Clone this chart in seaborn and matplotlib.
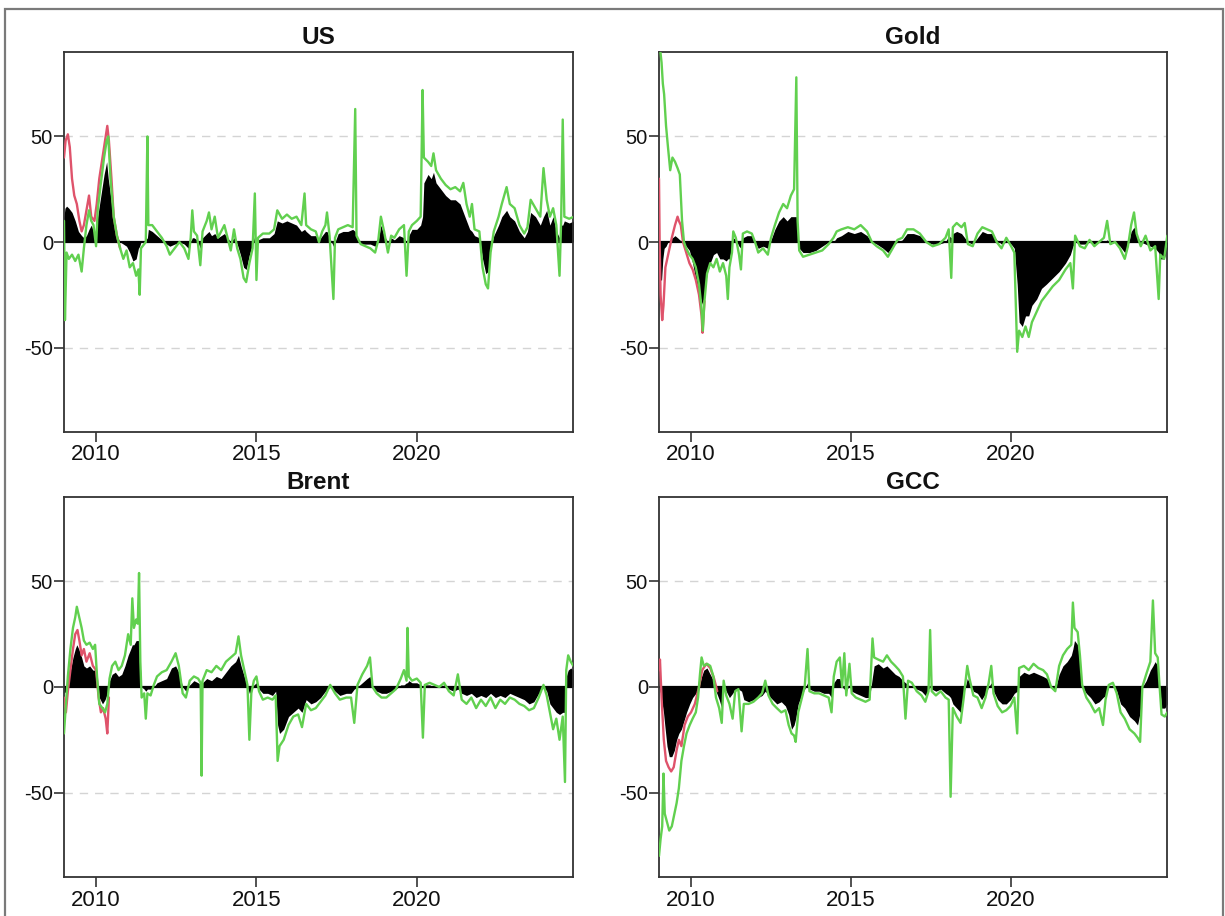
import matplotlib
matplotlib.use("Agg")
import matplotlib.pyplot as plt
import seaborn as sns
from matplotlib.patches import Rectangle

sns.set_theme(style="white")
plt.rcParams["font.family"] = ["Liberation Sans", "DejaVu Sans"]
plt.rcParams["axes.unicode_minus"] = False

RED = "#DF536B"
GREEN = "#61D04F"

# ---------------- US ----------------
us_t = [2009.00, 2009.03, 2009.08, 2009.15, 2009.25, 2009.35, 2009.45, 2009.55, 2009.62, 2009.70,
        2009.78, 2009.85, 2009.92, 2010.00, 2010.05, 2010.15, 2010.25, 2010.33, 2010.38, 2010.45,
        2010.55, 2010.65, 2010.75, 2010.85, 2010.95, 2011.05, 2011.15, 2011.25, 2011.32, 2011.36,
        2011.40, 2011.55, 2011.60, 2011.63, 2011.75, 2011.90, 2012.05, 2012.20, 2012.30, 2012.45,
        2012.60, 2012.75, 2012.88, 2012.95, 2013.00, 2013.05, 2013.15, 2013.25, 2013.32, 2013.45,
        2013.52, 2013.60, 2013.70, 2013.80, 2013.90, 2014.00, 2014.10, 2014.20, 2014.30, 2014.40,
        2014.50, 2014.60, 2014.68, 2014.78, 2014.88, 2014.95, 2015.00, 2015.05, 2015.20, 2015.40,
        2015.55, 2015.65, 2015.80, 2015.95, 2016.10, 2016.25, 2016.40, 2016.50, 2016.55, 2016.70,
        2016.85, 2016.95, 2017.05, 2017.15, 2017.20, 2017.28, 2017.40, 2017.45, 2017.55, 2017.70,
        2017.85, 2018.00, 2018.08, 2018.12, 2018.25, 2018.40, 2018.55, 2018.70, 2018.80, 2018.88,
        2018.98, 2019.10, 2019.20, 2019.30, 2019.45, 2019.60, 2019.68, 2019.75, 2019.85, 2020.00,
        2020.12, 2020.18, 2020.22, 2020.35, 2020.45, 2020.52, 2020.60, 2020.75, 2020.90, 2021.05,
        2021.20, 2021.35, 2021.45, 2021.55, 2021.65, 2021.72, 2021.80, 2021.95, 2022.05, 2022.15,
        2022.22, 2022.30, 2022.40, 2022.55, 2022.65, 2022.80, 2022.90, 2023.05, 2023.20, 2023.35,
        2023.45, 2023.55, 2023.70, 2023.85, 2023.95, 2024.05, 2024.15, 2024.25, 2024.35, 2024.45,
        2024.50, 2024.55, 2024.60, 2024.75, 2024.90]
us_fill = [12, 16, 17, 16, 14, 10, 5, 3, 2, 3,
           6, 8, 5, 3, 12, 22, 32, 38, 30, 22,
           10, 3, 0, -1, -2, -5, -9, -8, -3, -2,
           0, 1, 2, 6, 5, 3, 1, -1, -2, -1,
           0, -1, -3, 0, 2, 2, 1, -3, 2, 4,
           5, 3, 4, 2, 3, 4, 2, 0, 2, -1,
           -6, -12, -13, -6, -1, 3, -3, 1, 2, 2,
           4, 10, 9, 10, 9, 8, 5, 6, 5, 3,
           3, 1, 3, 5, 5, 2, -2, 0, 4, 5,
           5, 6, 5, 2, -1, -1, -1, -2, 1, 8,
           3, 0, 2, 1, 3, 2, 0, 3, 6, 6,
           8, 12, 28, 32, 30, 33, 28, 25, 22, 20,
           20, 18, 14, 10, 6, 5, 3, 2, -8, -15,
           -14, -3, 3, 8, 12, 15, 12, 10, 5, 2,
           5, 14, 12, 8, 12, 15, 8, 12, 5, 2,
           8, 8, 10, 9, 10]
us_green = [10, -37, -5, -8, -6, -9, -6, -14, -3, 8,
            15, 10, 8, -2, 15, 28, 40, 48, 50, 30,
            12, 3, -3, -8, -4, -12, -10, -16, -13, -25,
            -3, 0, 50, 8, 8, 5, 2, -2, -6, -3,
            0, -3, -8, 2, 15, 5, 3, -11, 5, 10,
            14, 6, 12, 2, 5, 8, 2, -4, 6, -3,
            -8, -17, -19, -10, -3, 23, -18, 2, 4, 4,
            6, 15, 11, 13, 11, 12, 8, 23, 8, 6,
            5, 0, 5, 8, 14, 3, -27, 2, 6, 7,
            8, 7, 63, 3, -1, -2, -3, -5, 1, 12,
            5, -5, 3, 2, 6, 8, -16, 5, 8, 10,
            12, 72, 40, 38, 36, 42, 34, 30, 27, 25,
            26, 24, 28, 18, 12, 18, 6, 5, -12, -20,
            -22, -5, 5, 12, 18, 26, 18, 16, 8, 4,
            7, 20, 16, 12, 35, 20, 12, 16, 8, -16,
            10, 58, 12, 11, 12]
us_red_t = [2009.00, 2009.05, 2009.12, 2009.18, 2009.25, 2009.32, 2009.40, 2009.48, 2009.55, 2009.62,
            2009.70, 2009.78, 2009.85, 2009.95, 2010.02, 2010.10, 2010.20, 2010.30, 2010.35, 2010.40,
            2010.48, 2010.55, 2010.65, 2010.75]
us_red = [40, 48, 51, 45, 30, 22, 18, 10, 5, 8,
          15, 22, 12, 10, 18, 30, 40, 50, 55, 48,
          30, 12, 3, -3]

# ---------------- Gold ----------------
gold_t = [2009.00, 2009.03, 2009.08, 2009.12, 2009.16, 2009.22, 2009.28, 2009.35, 2009.42, 2009.50,
          2009.58, 2009.65, 2009.72, 2009.78, 2009.85, 2009.95, 2010.05, 2010.15, 2010.25, 2010.32,
          2010.37, 2010.42, 2010.50, 2010.60, 2010.70, 2010.80, 2010.90, 2011.00, 2011.10, 2011.15,
          2011.20, 2011.28, 2011.32, 2011.40, 2011.50, 2011.56, 2011.62, 2011.75, 2011.90, 2012.00,
          2012.10, 2012.25, 2012.40, 2012.50, 2012.62, 2012.75, 2012.88, 2013.00, 2013.12, 2013.22,
          2013.29, 2013.33, 2013.38, 2013.50, 2013.70, 2013.90, 2014.10, 2014.30, 2014.45, 2014.55,
          2014.70, 2014.90, 2015.10, 2015.30, 2015.50, 2015.65, 2015.80, 2016.00, 2016.15, 2016.30,
          2016.45, 2016.60, 2016.75, 2016.95, 2017.15, 2017.35, 2017.55, 2017.75, 2017.95, 2018.05,
          2018.13, 2018.18, 2018.30, 2018.45, 2018.55, 2018.65, 2018.80, 2018.95, 2019.10, 2019.25,
          2019.40, 2019.55, 2019.70, 2019.85, 2020.00, 2020.10, 2020.19, 2020.25, 2020.35, 2020.45,
          2020.55, 2020.65, 2020.80, 2020.95, 2021.10, 2021.30, 2021.50, 2021.70, 2021.85, 2021.93,
          2022.00, 2022.15, 2022.30, 2022.45, 2022.60, 2022.75, 2022.90, 2023.00, 2023.10, 2023.25,
          2023.40, 2023.55, 2023.65, 2023.75, 2023.84, 2023.92, 2024.05, 2024.20, 2024.35, 2024.50,
          2024.61, 2024.66, 2024.78, 2024.88]
gold_fill = [-10, -18, -18, -8, -3, -2, 0, 1, 2, 3,
             2, 1, 0, -1, -2, -4, -10, -18, -24, -28,
             -30, -25, -15, -10, -6, -5, -8, -8, -9, -8,
             -8, -2, 2, 1, -2, -3, 2, 3, 3, 0,
             -3, -2, -3, 1, 6, 10, 12, 10, 12, 12,
             12, 5, -3, -5, -5, -4, -2, 0, 0, 2,
             3, 5, 4, 5, 3, 0, -1, -3, -5, -2,
             0, 1, 4, 4, 3, 0, -1, -1, 0, 3,
             2, 4, 5, 4, 2, 0, -1, 2, 5, 4,
             4, 1, -1, 0, -1, -3, -20, -38, -40, -35,
             -35, -30, -27, -22, -20, -17, -14, -10, -6, -2,
             0, -1, -1, 0, -1, 0, 0, 1, -1, 0,
             -2, -5, -2, 5, 7, 3, 0, -1, -2, -3,
             -5, -8, -8, -3]
gold_green = [95, 92, 85, 75, 70, 55, 45, 34, 40, 38,
              35, 32, 10, 0, -3, -6, -8, -12, -20, -30,
              -42, -28, -15, -10, -12, -8, -14, -10, -16, -27,
              -12, -5, 5, 2, -6, -13, 4, 5, 4, 0,
              -5, -3, -6, 2, 8, 14, 18, 16, 22, 25,
              78, 10, -4, -7, -6, -5, -4, -1, 2, 5,
              6, 7, 6, 8, 5, 0, -2, -4, -7, -3,
              1, 2, 6, 6, 4, 0, -2, -1, 2, 6,
              -17, 7, 9, 7, 9, -1, -2, 4, 7, 6,
              5, 0, -3, 2, -2, -5, -52, -42, -45, -40,
              -45, -38, -33, -28, -25, -21, -18, -13, -10, -22,
              3, -2, -3, 1, -2, 0, 2, 10, -1, 0,
              -3, -8, -2, 8, 14, 4, -2, 3, -4, -2,
              -27, -6, -8, 3]
gold_red_t = [2009.00, 2009.02, 2009.05, 2009.10, 2009.14, 2009.20, 2009.30, 2009.40, 2009.50, 2009.58,
              2009.62, 2009.68, 2009.75, 2009.85, 2009.95, 2010.05, 2010.15, 2010.25, 2010.33, 2010.36,
              2010.42]
gold_red = [30, 0, -25, -37, -30, -12, -5, 2, 8, 12,
            10, 8, 0, -5, -10, -13, -18, -25, -35, -43,
            -28]

# ---------------- Brent ----------------
brent_t = [2009.00, 2009.06, 2009.12, 2009.20, 2009.28, 2009.35, 2009.40, 2009.46, 2009.55, 2009.62,
           2009.70, 2009.80, 2009.90, 2009.97, 2010.03, 2010.10, 2010.20, 2010.28, 2010.35, 2010.42,
           2010.50, 2010.60, 2010.70, 2010.80, 2010.90, 2011.00, 2011.08, 2011.13, 2011.18, 2011.25,
           2011.30, 2011.34, 2011.38, 2011.42, 2011.50, 2011.55, 2011.60, 2011.70, 2011.80, 2011.90,
           2012.05, 2012.20, 2012.35, 2012.48, 2012.58, 2012.70, 2012.80, 2012.92, 2013.05, 2013.18,
           2013.26, 2013.29, 2013.32, 2013.45, 2013.60, 2013.75, 2013.90, 2014.05, 2014.20, 2014.35,
           2014.44, 2014.52, 2014.62, 2014.72, 2014.78, 2014.84, 2014.92, 2015.00, 2015.08, 2015.20,
           2015.35, 2015.50, 2015.60, 2015.66, 2015.72, 2015.85, 2016.00, 2016.15, 2016.30, 2016.42,
           2016.55, 2016.70, 2016.85, 2017.00, 2017.15, 2017.30, 2017.45, 2017.60, 2017.80, 2017.95,
           2018.05, 2018.15, 2018.30, 2018.45, 2018.54, 2018.62, 2018.75, 2018.90, 2019.05, 2019.20,
           2019.35, 2019.50, 2019.60, 2019.68, 2019.71, 2019.75, 2019.85, 2020.00, 2020.12, 2020.19,
           2020.25, 2020.40, 2020.55, 2020.70, 2020.85, 2021.00, 2021.15, 2021.28, 2021.40, 2021.55,
           2021.70, 2021.85, 2022.00, 2022.15, 2022.30, 2022.45, 2022.60, 2022.75, 2022.90, 2023.05,
           2023.20, 2023.35, 2023.50, 2023.65, 2023.80, 2023.95, 2024.05, 2024.15, 2024.25, 2024.35,
           2024.45, 2024.55, 2024.62, 2024.66, 2024.72, 2024.80, 2024.88]
brent_fill = [-3, -2, 2, 8, 14, 18, 20, 18, 14, 10,
              9, 10, 8, 8, 2, -5, -8, -6, -3, 3,
              6, 7, 5, 6, 10, 15, 18, 20, 20, 22,
              22, 22, 10, 0, -1, -2, -1, -1, 0, 2,
              3, 4, 9, 10, 7, 0, -2, 1, 3, 2,
              1, 0, 2, 4, 3, 5, 4, 7, 10, 12,
              15, 10, 5, 0, -3, -2, 1, 2, -1, -3,
              -3, -4, -2, -18, -22, -20, -14, -12, -10, -12,
              -6, -8, -7, -5, -2, 0, -2, -4, -3, -3,
              -1, 0, 2, 4, 5, 0, -2, -3, -3, -2,
              -1, 1, 1, 2, 2, 3, 2, 2, 1, 0,
              1, 1, 0, 0, 1, -1, -2, -1, -3, -4,
              -3, -5, -4, -5, -3, -5, -4, -5, -3, -4,
              -5, -6, -8, -7, -3, 0, -2, -8, -10, -12,
              -13, -12, -12, 5, 8, 9, 8]
brent_green = [-22, -8, 5, 18, 28, 33, 38, 34, 28, 22,
               20, 21, 18, 20, 5, -8, -10, -12, -8, 4,
               10, 12, 8, 10, 15, 25, 20, 42, 28, 32,
               30, 54, 12, -5, -3, -15, -3, -4, 1, 5,
               7, 8, 12, 16, 10, -3, -5, 3, 5, 4,
               2, -42, 3, 8, 7, 10, 8, 12, 14, 16,
               24, 15, 8, 1, -25, -3, 3, 5, -2, -6,
               -5, -6, -4, -35, -28, -25, -18, -14, -13, -19,
               -8, -11, -10, -7, -4, 1, -3, -6, -5, -5,
               -17, 1, 6, 10, 14, 0, -3, -5, -5, -3,
               -1, 4, 8, 3, 28, 5, 3, 4, 2, -24,
               1, 2, 1, 0, 2, -2, -4, 6, -6, -8,
               -5, -10, -6, -9, -5, -10, -6, -8, -5, -6,
               -8, -9, -11, -10, -5, 1, -4, -12, -20, -15,
               -25, -14, -45, 8, 15, 12, 10]
brent_red_t = [2009.00, 2009.06, 2009.12, 2009.20, 2009.28, 2009.35, 2009.42, 2009.48, 2009.55, 2009.62,
               2009.70, 2009.80, 2009.90, 2010.00, 2010.08, 2010.15, 2010.22, 2010.30, 2010.35, 2010.40]
brent_red = [-5, -12, -2, 8, 18, 25, 27, 22, 15, 18,
             12, 16, 10, 8, -5, -12, -10, -15, -22, -5]

# ---------------- GCC ----------------
gcc_t = [2009.00, 2009.05, 2009.10, 2009.14, 2009.18, 2009.25, 2009.32, 2009.40, 2009.48, 2009.55,
         2009.62, 2009.70, 2009.78, 2009.86, 2009.96, 2010.05, 2010.15, 2010.22, 2010.28, 2010.33,
         2010.40, 2010.50, 2010.60, 2010.70, 2010.78, 2010.88, 2010.96, 2011.02, 2011.10, 2011.20,
         2011.30, 2011.38, 2011.48, 2011.58, 2011.65, 2011.80, 2011.95, 2012.10, 2012.22, 2012.32,
         2012.42, 2012.55, 2012.68, 2012.82, 2012.95, 2013.05, 2013.14, 2013.22, 2013.27, 2013.35,
         2013.45, 2013.55, 2013.64, 2013.70, 2013.85, 2014.00, 2014.15, 2014.30, 2014.39, 2014.46,
         2014.55, 2014.65, 2014.72, 2014.79, 2014.85, 2014.95, 2015.02, 2015.15, 2015.30, 2015.45,
         2015.58, 2015.67, 2015.72, 2015.85, 2016.00, 2016.12, 2016.25, 2016.38, 2016.50, 2016.62,
         2016.70, 2016.78, 2016.90, 2017.05, 2017.20, 2017.32, 2017.42, 2017.47, 2017.52, 2017.65,
         2017.80, 2017.95, 2018.05, 2018.11, 2018.18, 2018.30, 2018.42, 2018.52, 2018.63, 2018.70,
         2018.82, 2018.95, 2019.08, 2019.20, 2019.30, 2019.38, 2019.45, 2019.58, 2019.72, 2019.85,
         2019.98, 2020.10, 2020.19, 2020.25, 2020.40, 2020.55, 2020.70, 2020.85, 2021.00, 2021.12,
         2021.25, 2021.38, 2021.50, 2021.62, 2021.75, 2021.88, 2021.93, 2021.98, 2022.08, 2022.15,
         2022.22, 2022.35, 2022.48, 2022.62, 2022.75, 2022.87, 2022.95, 2023.05, 2023.18, 2023.30,
         2023.42, 2023.55, 2023.70, 2023.85, 2023.95, 2024.03, 2024.10, 2024.22, 2024.35, 2024.43,
         2024.50, 2024.58, 2024.64, 2024.70, 2024.80, 2024.88]
gcc_fill = [0, -3, -8, -12, -18, -28, -33, -33, -30, -25,
            -22, -20, -16, -12, -8, -5, -3, -2, 2, 5,
            8, 9, 6, 3, -2, -6, -10, 0, -2, -5,
            -3, -1, -1, -2, -6, -7, -6, -5, -4, -2,
            -4, -6, -8, -7, -9, -13, -20, -18, -15, -8,
            -4, -1, 2, -1, -2, -2, -3, -3, -5, 2,
            4, 4, 0, -1, -2, 1, -2, -3, -4, -5,
            -5, 5, 10, 11, 9, 10, 8, 6, 5, 3,
            2, 1, 0, -1, -2, -4, -1, 0, -1, -2,
            -1, -3, -4, -5, -8, -10, -12, -3, 4, 2,
            -2, -3, -6, -3, 0, 2, -2, -6, -8, -8,
            -6, -3, -2, 5, 7, 6, 7, 6, 5, 4,
            0, -1, 6, 10, 12, 15, 18, 22, 20, 12,
            0, -3, -5, -8, -7, -5, -4, 0, 0, -2,
            -8, -10, -14, -16, -18, -12, 0, 3, 8, 10,
            12, 10, 0, -10, -10, -8]
gcc_green = [-80, -72, -66, -41, -60, -64, -68, -66, -60, -55,
             -48, -35, -28, -22, -18, -15, -12, -5, 6, 14,
             10, 11, 10, 5, -5, -10, -17, 3, -4, -8,
             -15, -2, -1, -21, -8, -8, -7, -5, -3, 3,
             -4, -8, -10, -12, -11, -18, -22, -23, -26, -12,
             -6, 0, 18, -2, -3, -3, -4, -5, -12, 5,
             12, 14, 0, 16, -4, 11, -3, -5, -6, -7,
             -6, 23, 14, 13, 12, 15, 12, 10, 8, 5,
             -15, 3, 2, -2, -4, -7, -2, 27, -2, -4,
             -2, -5, -6, -52, -10, -14, -17, -5, 10, 4,
             -4, -5, -10, -5, 2, 10, -3, -9, -12, -11,
             -9, -5, -22, 9, 10, 8, 11, 9, 8, 6,
             0, -2, 10, 15, 18, 20, 40, 28, 26, 15,
             1, -5, -8, -12, -10, -18, -6, 1, 2, -3,
             -12, -15, -20, -22, -24, -26, 0, 6, 12, 41,
             16, 14, 0, -13, -14, -12]
gcc_red_t = [2009.00, 2009.03, 2009.08, 2009.15, 2009.22, 2009.30, 2009.38, 2009.46, 2009.55, 2009.62,
             2009.70, 2009.80, 2009.90, 2010.00, 2010.12, 2010.25, 2010.35, 2010.48, 2010.60, 2010.72,
             2010.82]
gcc_red = [8, 13, -5, -25, -35, -38, -40, -38, -30, -25,
           -28, -18, -14, -12, -8, 0, 8, 11, 9, 4,
           -2]

panels = [
    ("US", us_t, us_fill, us_green, us_red_t, us_red),
    ("Gold", gold_t, gold_fill, gold_green, gold_red_t, gold_red),
    ("Brent", brent_t, brent_fill, brent_green, brent_red_t, brent_red),
    ("GCC", gcc_t, gcc_fill, gcc_green, gcc_red_t, gcc_red),
]

W, H = 1225, 916
fig = plt.figure(figsize=(W / 100, H / 100), dpi=100)

# panel boxes in pixels: left, top, right, bottom
boxes = [(64, 52, 573, 432), (659, 52, 1167, 432),
         (64, 497, 573, 877), (659, 497, 1167, 877)]

for (name, t, fill, green, red_t, red), (x0, y0, x1, y1) in zip(panels, boxes):
    ax = fig.add_axes([x0 / W, 1 - y1 / H, (x1 - x0) / W, (y1 - y0) / H])
    for g in (-50, 50):
        ax.axhline(g, color="#d4d4d4", lw=1.0, ls=(0, (6, 5)), zorder=0)
    ax.fill_between(t, fill, 0, color="black", linewidth=0, zorder=1)
    ax.axhline(0, color="black", lw=1.6, zorder=2)
    sns.lineplot(x=red_t, y=red, ax=ax, color=RED, linewidth=1.7,
                 estimator=None, sort=False, zorder=3)
    sns.lineplot(x=t, y=green, ax=ax, color=GREEN, linewidth=1.7,
                 estimator=None, sort=False, zorder=4)
    ax.set_xlim(2009.0, 2024.87)
    ax.set_ylim(-90, 90)
    ax.set_xticks([2010, 2015, 2020])
    ax.set_xticklabels(["2010", "2015", "2020"])
    ax.set_yticks([-50, 0, 50])
    ax.set_yticklabels(["-50", "0", "50"])
    ax.set_xlabel("")
    ax.set_ylabel("")
    ax.tick_params(axis="both", direction="out", length=7, width=1.2,
                   color="#333333", labelcolor="#111111", bottom=True, left=True)
    ax.tick_params(axis="x", labelsize=16, pad=2)
    ax.tick_params(axis="y", labelsize=14.5, pad=1)
    for sp in ax.spines.values():
        sp.set_color("#333333")
        sp.set_linewidth(1.3)
    ax.set_title(name, fontsize=17.5, fontweight="bold", pad=6, color="#111111")

fig.add_artist(Rectangle((5 / W, -0.05), (1223 - 5) / W, 1 - 9 / H + 0.05,
                         transform=fig.transFigure, fill=False,
                         edgecolor="#7a7a7a", linewidth=1.6))

fig.savefig("out.png", dpi=100, facecolor="white")
